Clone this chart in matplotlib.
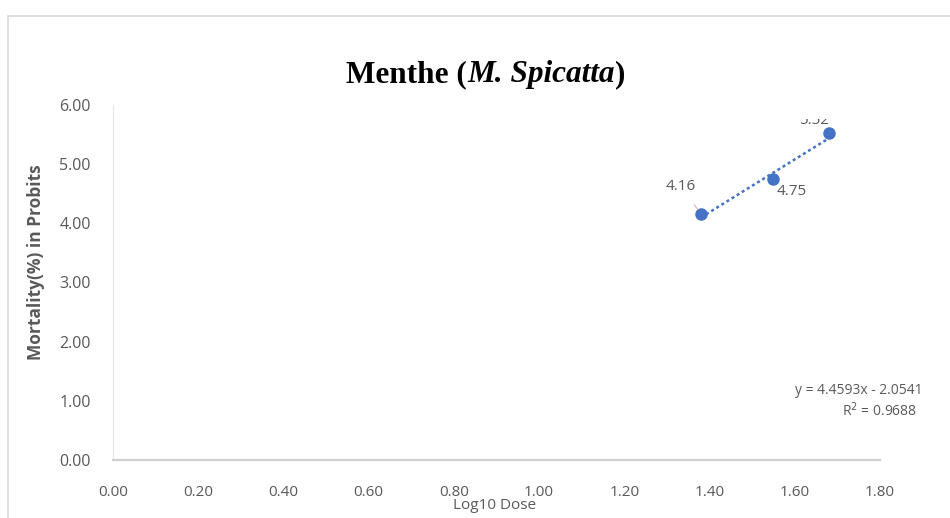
import matplotlib
matplotlib.use("Agg")
import numpy as np
import matplotlib.pyplot as plt
from matplotlib.patches import Rectangle
from matplotlib.transforms import Bbox

# probit mortality vs log10 dose
log_dose = [1.38, 1.55, 1.68]
probits = [4.16, 4.75, 5.52]
point_labels = ["4.16", "4.75", "5.52"]
slope, intercept = 4.4593, -2.0541
r_squared = 0.9688

x_ticks = [0.0, 0.2, 0.4, 0.6, 0.8, 1.0, 1.2, 1.4, 1.6, 1.8]
y_ticks = [0, 1, 2, 3, 4, 5, 6]

blue = "#4472C4"
grey = "#595959"
sans = ["Open Sans", "DejaVu Sans"]

fig = plt.figure(figsize=(9.5, 5.18), dpi=100)
fig.patch.set_facecolor("white")

# light chart border
fig.add_artist(Rectangle((0.008, -0.02), 1.1, 0.99, transform=fig.transFigure,
                         fill=False, edgecolor="#d9d9d9", linewidth=1.2))

ax = fig.add_axes([113 / 950, 1 - 460 / 518, 767 / 950, 355 / 518])
ax.set_xlim(0, 1.8)
ax.set_ylim(0, 6)
ax.set_xticks(x_ticks)
ax.set_yticks(y_ticks)
ax.set_xticklabels([f"{v:.2f}" for v in x_ticks], fontfamily=sans, fontsize=11, color=grey)
ax.set_yticklabels([f"{v:.2f}" for v in y_ticks], fontfamily=sans, fontsize=11.5, color=grey)
ax.tick_params(axis="x", length=0, pad=18)
ax.tick_params(axis="y", length=0, pad=16)
for side in ["top", "right"]:
    ax.spines[side].set_visible(False)
ax.spines["left"].set_color("#e6e6e6")
ax.spines["bottom"].set_color("#cfcfcf")
ax.spines["bottom"].set_linewidth(1.6)

# trend line over the data range
xs = np.array([min(log_dose), max(log_dose)])
ax.plot(xs, slope * xs + intercept, linestyle=(0, (1.2, 1.2)), color=blue, linewidth=1.8)
ax.plot(log_dose, probits, "o", color=blue, markersize=8, zorder=3)

# data labels
lab_kw = dict(textcoords="offset pixels", fontfamily=sans, fontsize=11, color=grey,
              ha="center", va="center")
ax.annotate(point_labels[0], xy=(log_dose[0], probits[0]), xytext=(-20, 27),
            arrowprops=dict(arrowstyle="-", color="#e0b0a0", lw=0.8, shrinkA=7, shrinkB=4),
            **lab_kw)
ax.annotate(point_labels[1], xy=(log_dose[1], probits[1]), xytext=(18, -13), **lab_kw)
top_lab = ax.annotate(point_labels[2], xy=(log_dose[2], probits[2]), xytext=(-15, 13),
                      annotation_clip=False, **lab_kw)
# the top label runs past the plot area and is cut there
fig.canvas.draw()
top_lab.set_clip_box(Bbox.from_extents(0, 0, 950, 518 - 119))
top_lab.set_clip_on(True)

# regression equation
ax.text(1.6, 1.18, f"y = {slope}x - {abs(intercept)}", fontfamily=sans, fontsize=10,
        color=grey, ha="left", va="center", clip_on=False)
ax.text(1.80, 0.83, f"R$^2$ = {r_squared}", fontfamily=sans, fontsize=10,
        color=grey, ha="center", va="center", clip_on=False)

ax.set_xlabel("Log10 Dose", fontfamily=sans, fontsize=11, color=grey)
ax.xaxis.set_label_coords(0.497, -0.108)
ax.set_ylabel("Mortality(%) in Probits", fontfamily=sans, fontsize=12.5, color=grey,
              fontweight="bold")
ax.yaxis.set_label_coords(-0.089, 0.558)

# title with italic species name
serif = "Liberation Serif"
base_y = 1 - 82 / 518
t1 = fig.text(0.36, base_y, "Menthe (", fontfamily=serif, fontsize=22.5, fontweight="bold",
              ha="left", va="baseline")
t2 = fig.text(0, base_y, "M. Spicatta", fontfamily=serif, fontsize=22.5, fontweight="bold",
              style="italic", ha="left", va="baseline")
t3 = fig.text(0, base_y, ")", fontfamily=serif, fontsize=22.5, fontweight="bold",
              ha="left", va="baseline")
fig.canvas.draw()
r = fig.canvas.get_renderer()
b1 = t1.get_window_extent(r)
t2.set_x(b1.x1 / fig.bbox.width)
b2 = t2.get_window_extent(r)
t3.set_x((b2.x1 + 1) / fig.bbox.width)
total = t3.get_window_extent(r).x1 - b1.x0
shift = (486 - total / 2) - b1.x0
for t in (t1, t2, t3):
    t.set_x(t.get_position()[0] + shift / fig.bbox.width)

fig.savefig("out.png", dpi=100)
